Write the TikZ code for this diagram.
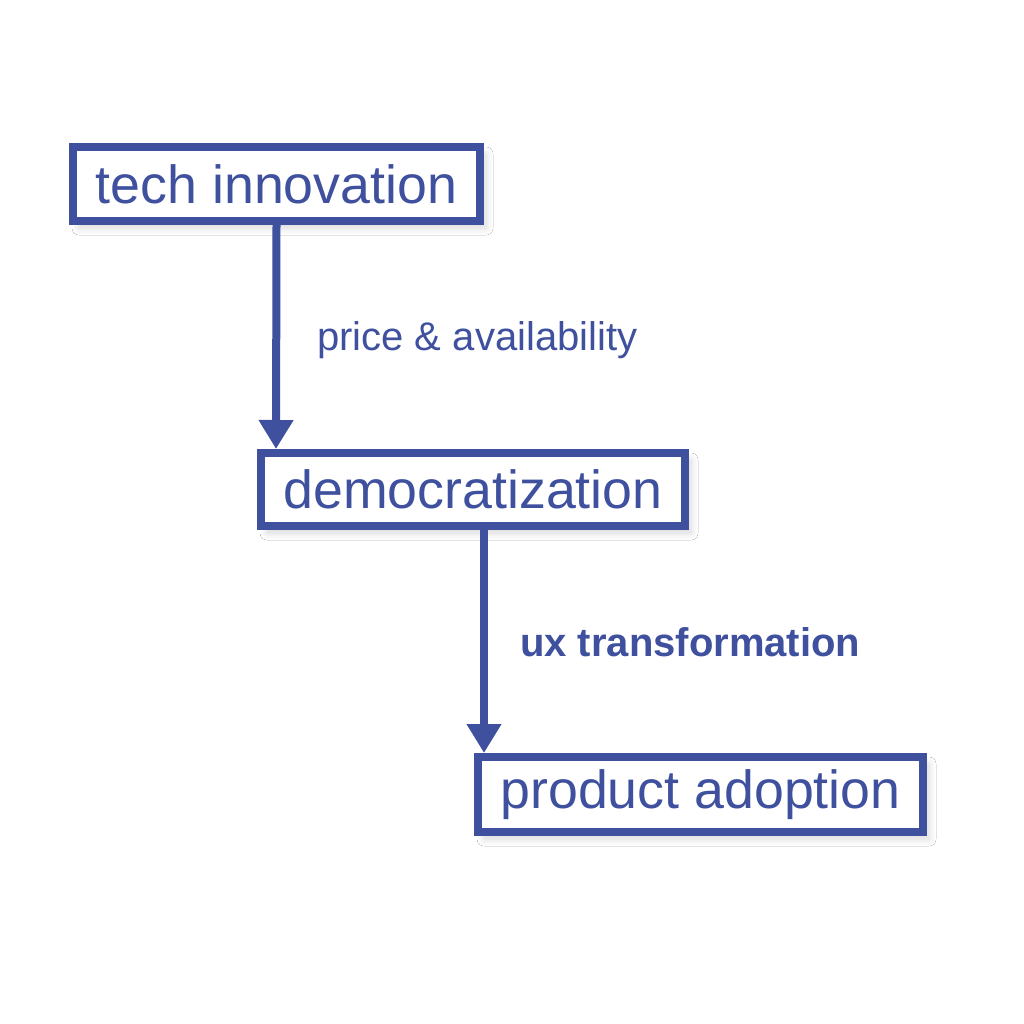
\documentclass[tikz,border=0pt]{standalone}
\usepackage{fontspec}
\setmainfont{Liberation Sans}
\usetikzlibrary{arrows.meta,shadows.blur}
\definecolor{ink}{RGB}{62,80,158}
\tikzset{
  box/.style={draw=ink, line width=8pt, fill=white, text=ink, inner sep=0pt,
    font=\fontsize{53.7}{60}\selectfont,
    blur shadow={shadow xshift=6pt, shadow yshift=-7pt, shadow blur radius=7pt, shadow blur steps=14, shadow opacity=16}},
  conn/.style={draw=ink, line width=8pt, -{Triangle[width=33pt,length=29pt]}},
  lbl/.style={text=ink, inner sep=0pt, anchor=base west, font=\fontsize{40}{46}\selectfont}
}
\begin{document}
\begin{tikzpicture}[x=1pt,y=-1pt]
\useasboundingbox[fill=white] (0,0) rectangle (1024,1024);
\node[box, minimum width=407pt, minimum height=74pt] (b1) at (276.5,184) {tech innovation};
\node[box, minimum width=424pt, minimum height=73pt] (b2) at (473,489.5) {democratization};
\node[box, minimum width=445pt, minimum height=75pt] (b3) at (700.5,794.5) {product adoption};
\coordinate (t1) at (276,449);
\coordinate (s2) at (484,530);
\coordinate (t2) at (484,753);
\draw[conn] (b1.south) -- (t1);
\draw[conn] (s2) -- (t2);
\node[lbl] (l1) at (317,350) {price \& availability};
\node[lbl, font=\fontsize{40}{46}\selectfont\bfseries] (l2) at (520,656) {ux transformation};
\end{tikzpicture}
\end{document}
